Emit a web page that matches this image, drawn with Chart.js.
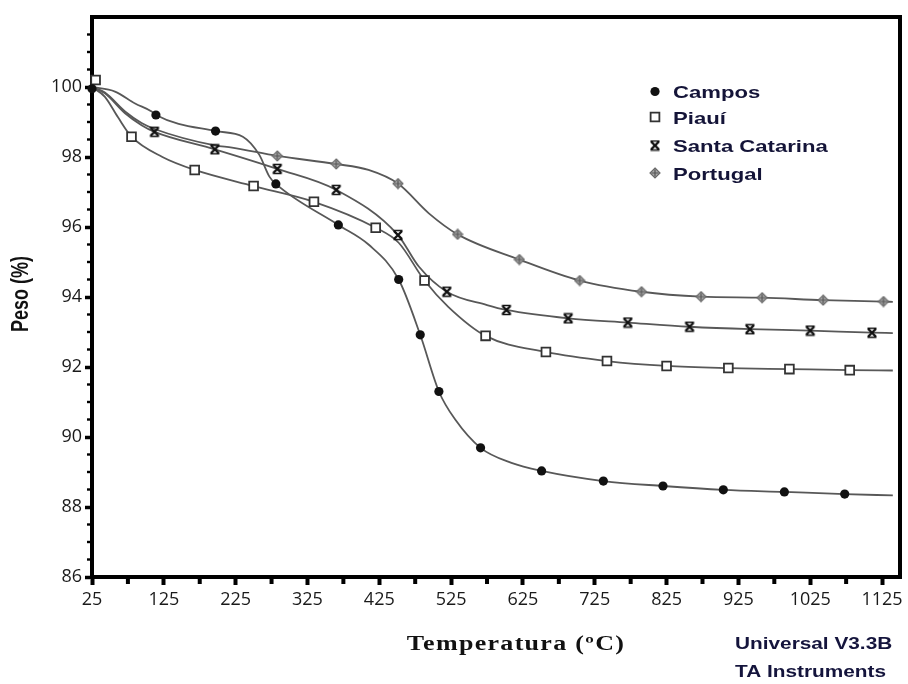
<!DOCTYPE html>
<html>
<head>
<meta charset="utf-8">
<script src="https://cdn.jsdelivr.net/npm/chart.js@4.4.0/dist/chart.umd.min.js"></script>
<style>
  html, body { margin: 0; padding: 0; background: #fff; }
  #wrap { width: 908px; height: 684px; }
</style>
</head>
<body>
<div id="wrap"><canvas id="tga" width="908" height="684"></canvas></div>
<script>
// Axis ticks
const tempTicks = [25, 125, 225, 325, 425, 525, 625, 725, 825, 925, 1025, 1125];
const pesoTicks = [86, 88, 90, 92, 94, 96, 98, 100];

const seriesNames = ["Campos", "Piauí", "Santa Catarina", "Portugal"];

// Campos
const camposCurveT = [25, 57, 85, 108, 114, 197, 235, 258, 272, 281, 368, 410, 452, 482, 508, 531, 566, 609, 651, 737, 820, 904, 989, 1073, 1140];
const camposCurveW = [100.0, 99.87, 99.53, 99.3, 99.2, 98.74, 98.58, 98.06, 97.44, 97.23, 96.06, 95.5, 94.5, 92.92, 91.3, 90.49, 89.69, 89.26, 89.03, 88.74, 88.6, 88.49, 88.43, 88.37, 88.33];
const camposMarkT = [25, 114, 197, 281, 368, 452, 482, 508, 566, 651, 737, 820, 904, 989, 1073];
const camposMarkW = [99.95, 99.2, 98.74, 97.23, 96.06, 94.5, 92.92, 91.3, 89.69, 89.03, 88.74, 88.6, 88.49, 88.43, 88.37];

// Piauí
const piauiCurveT = [25, 43, 61, 80, 123, 168, 250, 334, 420, 452, 488, 521, 573, 657, 742, 825, 911, 996, 1080, 1140];
const piauiCurveW = [100.0, 99.72, 99.14, 98.58, 98.0, 97.63, 97.17, 96.72, 95.98, 95.55, 94.47, 93.72, 92.89, 92.43, 92.17, 92.03, 91.97, 91.94, 91.91, 91.9];
const piauiMarkT = [30, 80, 168, 250, 334, 420, 488, 573, 657, 742, 825, 911, 996, 1080];
const piauiMarkW = [100.2, 98.58, 97.63, 97.17, 96.72, 95.98, 94.47, 92.89, 92.43, 92.17, 92.03, 91.97, 91.94, 91.91];

// Santa Catarina
const scCurveT = [25, 43, 71, 94, 112, 196, 283, 365, 451, 480, 519, 575, 602, 688, 771, 857, 941, 1025, 1111, 1140];
const scCurveW = [100.0, 99.82, 99.25, 98.91, 98.72, 98.22, 97.66, 97.06, 95.77, 94.87, 94.15, 93.77, 93.63, 93.39, 93.27, 93.15, 93.08, 93.04, 92.98, 92.97];
const scMarkT = [112, 196, 283, 365, 451, 519, 602, 688, 771, 857, 941, 1025, 1111];
const scMarkW = [98.72, 98.22, 97.66, 97.06, 95.77, 94.15, 93.63, 93.39, 93.27, 93.15, 93.08, 93.04, 92.98];

// Portugal
const ptCurveT = [25, 43, 71, 94, 112, 196, 220, 283, 365, 410, 451, 494, 534, 620, 704, 790, 873, 958, 1043, 1127, 1140];
const ptCurveW = [100.0, 99.84, 99.3, 98.97, 98.8, 98.33, 98.27, 98.03, 97.8, 97.63, 97.24, 96.39, 95.79, 95.07, 94.47, 94.15, 94.01, 93.98, 93.91, 93.87, 93.86];
const ptMarkT = [283, 365, 451, 534, 620, 704, 790, 873, 958, 1043, 1127];
const ptMarkW = [98.03, 97.8, 97.24, 95.79, 95.07, 94.47, 94.15, 94.01, 93.98, 93.91, 93.87];

// marker images
function makeMarker(draw) {
  const c = document.createElement("canvas");
  c.width = 12;
  c.height = 12;
  draw(c.getContext("2d"));
  return c;
}
const xBarMark = makeMarker((g) => {
  g.strokeStyle = "#111";
  g.lineWidth = 2.4;
  g.beginPath();
  g.moveTo(2, 2); g.lineTo(10, 10);
  g.moveTo(10, 2); g.lineTo(2, 10);
  g.stroke();
  g.lineWidth = 1.6;
  g.beginPath();
  g.moveTo(1.5, 1.5); g.lineTo(10.5, 1.5);
  g.moveTo(1.5, 10.5); g.lineTo(10.5, 10.5);
  g.stroke();
});
const diamondMark = makeMarker((g) => {
  g.fillStyle = "#a8a8a8";
  g.strokeStyle = "#6a6a6a";
  g.lineWidth = 1.2;
  g.beginPath();
  g.moveTo(6, 1); g.lineTo(11, 6); g.lineTo(6, 11); g.lineTo(1, 6);
  g.closePath();
  g.fill();
  g.stroke();
  g.strokeStyle = "#555";
  g.beginPath();
  g.moveTo(6, 2.5); g.lineTo(6, 9.5);
  g.moveTo(2.5, 6); g.lineTo(9.5, 6);
  g.stroke();
});

const markerStyles = [
  { pointStyle: "circle", radius: 4.6, fill: "#111", stroke: "#111", width: 0 },
  { pointStyle: "rect", radius: 6.2, fill: "#fff", stroke: "#333", width: 1.8 },
  { pointStyle: xBarMark, radius: 6, fill: "#111", stroke: "#111", width: 0 },
  { pointStyle: diamondMark, radius: 6, fill: "#999", stroke: "#666", width: 0 },
];

const toXY = (ts, ws) => ts.map((t, i) => ({ x: t, y: ws[i] }));

function curve(ts, ws) {
  return {
    data: toXY(ts, ws),
    showLine: true,
    borderColor: "#585858",
    borderWidth: 1.8,
    pointRadius: 0,
    cubicInterpolationMode: "monotone",
    fill: false,
    order: 2,
  };
}

function marks(ts, ws, st) {
  return {
    data: toXY(ts, ws),
    showLine: false,
    pointStyle: st.pointStyle,
    pointRadius: st.radius,
    pointBackgroundColor: st.fill,
    pointBorderColor: st.stroke,
    pointBorderWidth: st.width,
    clip: false,
    order: 1,
  };
}

// frame, minor ticks
const framePlugin = {
  id: "frame",
  beforeDatasetsDraw(chart) {
    const { ctx, chartArea: a, scales: { x, y } } = chart;
    ctx.save();
    ctx.fillStyle = "#000";
    ctx.fillRect(a.left - 2, a.top - 2, a.right - a.left + 4, 4);
    ctx.fillRect(a.right - 2, a.top - 2, 4, a.bottom - a.top + 4);
    for (let v = y.min + 0.5; v < y.max; v += 0.5) {
      if (pesoTicks.includes(v)) continue;
      const py = y.getPixelForValue(v);
      ctx.fillRect(a.left - 5, py - 1.2, 3, 2.4);
    }
    for (let i = 0; i < tempTicks.length - 1; i++) {
      const px = x.getPixelForValue((tempTicks[i] + tempTicks[i + 1]) / 2);
      ctx.fillRect(px - 2, a.bottom + 2, 4, 5);
    }
    ctx.restore();
  },
};

function stretchText(ctx, text, x, y, sx, sy, align) {
  ctx.save();
  ctx.translate(x, y);
  ctx.scale(sx, sy);
  ctx.textAlign = align;
  ctx.textBaseline = "alphabetic";
  ctx.fillText(text, 0, 0);
  ctx.restore();
}

const textPlugin = {
  id: "texts",
  afterDraw(chart) {
    const { ctx } = chart;
    ctx.save();

    // legend
    const legY = [91.5, 117, 145.5, 173];
    const legBase = [97.5, 123.5, 151.5, 179.5];
    seriesNames.forEach((name, i) => {
      const st = markerStyles[i];
      ctx.fillStyle = st.fill;
      ctx.strokeStyle = st.stroke;
      ctx.lineWidth = st.width;
      Chart.helpers.drawPoint(ctx, { pointStyle: st.pointStyle, radius: st.radius, borderWidth: st.width, rotation: 0 }, 655, legY[i]);
      ctx.fillStyle = "#141438";
      ctx.font = 'bold 17px "Liberation Sans"';
      stretchText(ctx, name, 673, legBase[i], 1.3, 1, "left");
    });

    // y title
    ctx.save();
    ctx.translate(28, 294);
    ctx.rotate(-Math.PI / 2);
    ctx.scale(1, 1.3);
    ctx.fillStyle = "#111";
    ctx.font = 'bold 18px "Liberation Sans"';
    ctx.textAlign = "center";
    ctx.fillText("Peso (%)", 0, 0);
    ctx.restore();

    // x title
    ctx.fillStyle = "#111";
    ctx.font = 'bold 20px "Liberation Serif"';
    ctx.letterSpacing = "1px";
    stretchText(ctx, "Temperatura (ºC)", 516, 650, 1.3, 1, "center");
    ctx.letterSpacing = "0px";

    // instrument note
    ctx.fillStyle = "#14143c";
    ctx.font = 'bold 16px "Liberation Sans"';
    stretchText(ctx, "Universal V3.3B", 735, 649, 1.3, 1, "left");
    stretchText(ctx, "TA Instruments", 735, 677, 1.3, 1, "left");
    ctx.restore();
  },
};

const datasets = [
  curve(camposCurveT, camposCurveW),
  curve(piauiCurveT, piauiCurveW),
  curve(scCurveT, scCurveW),
  curve(ptCurveT, ptCurveW),
  marks(camposMarkT, camposMarkW, markerStyles[0]),
  marks(piauiMarkT, piauiMarkW, markerStyles[1]),
  marks(scMarkT, scMarkW, markerStyles[2]),
  marks(ptMarkT, ptMarkW, markerStyles[3]),
];

new Chart(document.getElementById("tga"), {
  type: "scatter",
  data: { datasets },
  options: {
    responsive: false,
    animation: false,
    layout: { padding: { top: 17, right: 6, left: 0, bottom: 0 } },
    plugins: {
      legend: { display: false },
      tooltip: { enabled: false },
    },
    scales: {
      x: {
        type: "linear",
        min: 25,
        max: 1150,
        afterBuildTicks: (s) => { s.ticks = tempTicks.map((v) => ({ value: v })); },
        afterFit: (s) => { s.height = 107; },
        grid: { drawOnChartArea: false, tickLength: 8, tickWidth: 4, tickColor: "#000" },
        border: { width: 4, color: "#000" },
        ticks: {
          color: "#1a1a1a",
          font: { family: '"Open Sans"', size: 18 },
          padding: 4,
          maxRotation: 0,
          autoSkip: false,
          callback: (v) => String(v),
        },
      },
      y: {
        min: 86,
        max: 102,
        afterBuildTicks: (s) => { s.ticks = pesoTicks.map((v) => ({ value: v })); },
        afterFit: (s) => { s.width = 92; },
        grid: { drawOnChartArea: false, tickLength: 7, tickWidth: 3.5, tickColor: "#000" },
        border: { width: 4, color: "#000" },
        ticks: {
          color: "#1a1a1a",
          font: { family: '"Open Sans"', size: 18 },
          padding: 3,
          autoSkip: false,
          callback: (v) => String(v),
        },
      },
    },
  },
  plugins: [framePlugin, textPlugin],
});
</script>
</body>
</html>
